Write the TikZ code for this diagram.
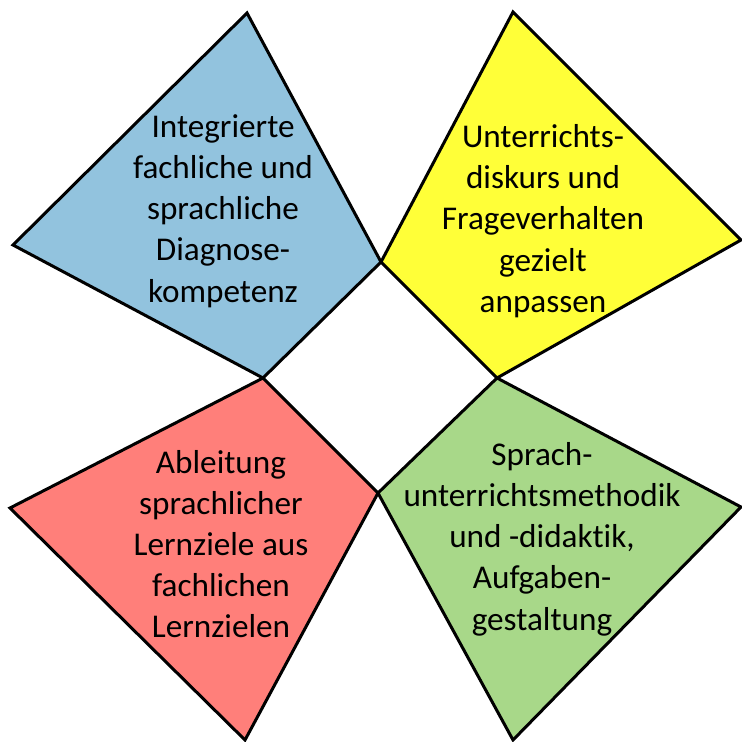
\documentclass[tikz,border=0pt]{standalone}
\usepackage{fontspec}
\setmainfont{Carlito}[Ligatures=NoCommon]
\definecolor{fieldblue}{RGB}{146,195,222}
\definecolor{fieldyellow}{RGB}{255,255,56}
\definecolor{fieldred}{RGB}{255,127,122}
\definecolor{fieldgreen}{RGB}{168,216,137}
\begin{document}
\begin{tikzpicture}[x=0.5pt,y=-0.5pt,
	field/.style={draw=black, line width=1.5pt},
	fieldtext/.style={align=center, inner sep=0pt, font=\fontsize{16.6}{20.6}\selectfont}]
	\useasboundingbox (0,0) rectangle (741,742);
	
	% Four quadrilaterals
	\draw[field, fill=fieldblue] (247,13) -- (381,262) -- (263,378) -- (13,245) -- cycle;
	\draw[field, fill=fieldyellow] (513,12) -- (741,240) -- (497,378) -- (381,262) -- cycle;
	\draw[field, fill=fieldred] (263,378) -- (378,493) -- (245,740) -- (10,508) -- cycle;
	\draw[field, fill=fieldgreen] (497,378) -- (741,507) -- (513,740) -- (378,493) -- cycle;
	
	% Labels
	\node[fieldtext] (diagnose) at (223,211) {Integrierte\\fachliche und\\sprachliche\\Diagnose-\\kompetenz};
	\node[fieldtext] (diskurs) at (543,221) {Unterrichts-\\diskurs und\\Frageverhalten\\gezielt\\anpassen};
	\node[fieldtext] (lernziele) at (221,544) {Ableitung\\sprachlicher\\Lernziele aus\\fachlichen\\Lernzielen};
	\node[fieldtext] (methodik) at (542,539) {Sprach-\\unterrichtsmethodik\\und -didaktik,\\Aufgaben-\\gestaltung};
	
\end{tikzpicture}
\end{document}
